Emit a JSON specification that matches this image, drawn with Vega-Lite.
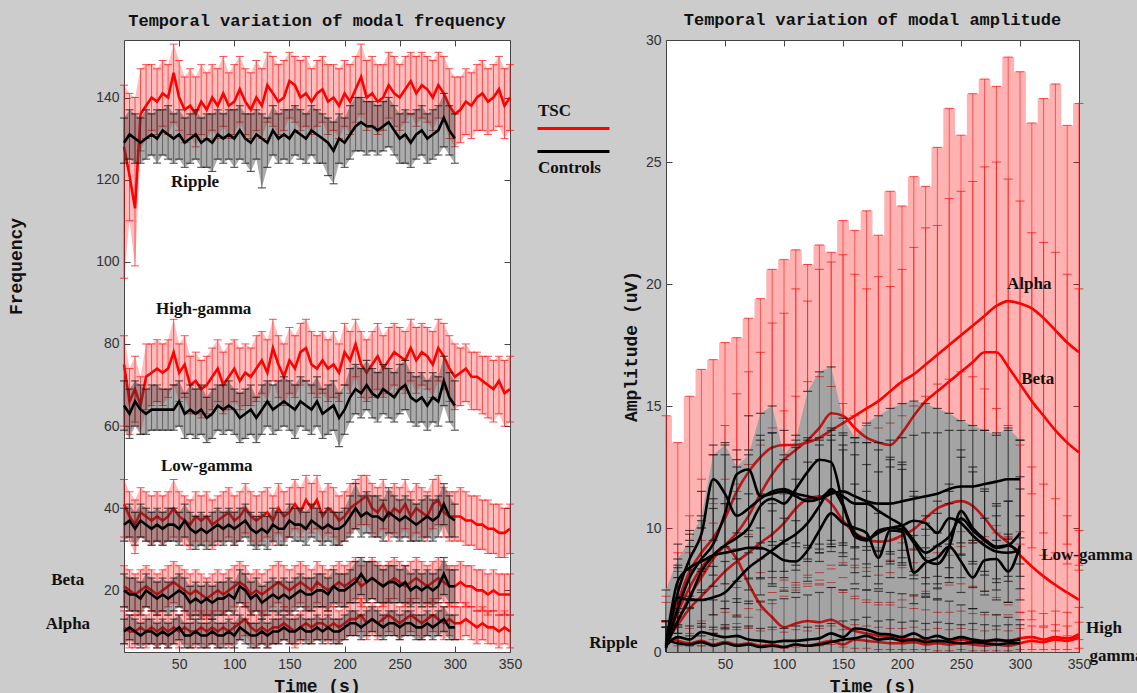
{
"$schema":"https://vega.github.io/schema/vega-lite/v6.json",
"background":"#cccccc",
"padding":{"left":6,"top":10,"right":0,"bottom":0},
"spacing":65,
"config":{
 "view":{"stroke":"#444444","fill":"#ffffff","strokeWidth":1},
 "title":{"font":"Liberation Mono","fontSize":17,"fontWeight":"bold","color":"#111111","offset":10},
 "axis":{"labelFont":"Liberation Sans","labelFontSize":14,"labelColor":"#333333","titleFont":"Liberation Mono","titleFontSize":18,"titleFontWeight":"bold","titleColor":"#111111","domain":false,"grid":false,"tickColor":"#444444","tickSize":-6,"labelPadding":11,"labelFlush":false,"labelOverlap":false},
 "legend":{"padding":0,"labelOffset":0},
 "text":{"font":"Liberation Serif","fontWeight":"bold","fontSize":17,"color":"#111111","align":"left","baseline":"middle"}
},
"datasets":{
"left":[
{"b":"R","t":0,"Tm":128,"Tl":96,"Th":143,"Cm":129,"Cl":124,"Ch":135},
{"b":"R","t":5,"Tm":121,"Tl":110,"Th":141,"Cm":131,"Cl":125,"Ch":137},
{"b":"R","t":10,"Tm":113,"Tl":99,"Th":140,"Cm":130,"Cl":124,"Ch":136},
{"b":"R","t":15,"Tm":136,"Tl":127,"Th":147,"Cm":129,"Cl":124,"Ch":135},
{"b":"R","t":20,"Tm":138,"Tl":130,"Th":148,"Cm":130,"Cl":125,"Ch":137},
{"b":"R","t":25,"Tm":140,"Tl":132,"Th":148,"Cm":131,"Cl":126,"Ch":136},
{"b":"R","t":30,"Tm":139,"Tl":131,"Th":147,"Cm":130,"Cl":124,"Ch":137},
{"b":"R","t":35,"Tm":141,"Tl":133,"Th":149,"Cm":132,"Cl":126,"Ch":137},
{"b":"R","t":40,"Tm":140,"Tl":131,"Th":148,"Cm":131,"Cl":125,"Ch":138},
{"b":"R","t":45,"Tm":146,"Tl":134,"Th":153,"Cm":130,"Cl":124,"Ch":136},
{"b":"R","t":50,"Tm":140,"Tl":132,"Th":149,"Cm":131,"Cl":125,"Ch":137},
{"b":"R","t":55,"Tm":137,"Tl":129,"Th":145,"Cm":129,"Cl":123,"Ch":135},
{"b":"R","t":60,"Tm":138,"Tl":131,"Th":147,"Cm":130,"Cl":124,"Ch":136},
{"b":"R","t":65,"Tm":136,"Tl":128,"Th":145,"Cm":131,"Cl":125,"Ch":137},
{"b":"R","t":70,"Tm":139,"Tl":131,"Th":148,"Cm":129,"Cl":123,"Ch":135},
{"b":"R","t":75,"Tm":137,"Tl":130,"Th":146,"Cm":130,"Cl":123,"Ch":136},
{"b":"R","t":80,"Tm":140,"Tl":132,"Th":148,"Cm":129,"Cl":122,"Ch":136},
{"b":"R","t":85,"Tm":138,"Tl":130,"Th":147,"Cm":131,"Cl":125,"Ch":137},
{"b":"R","t":90,"Tm":141,"Tl":133,"Th":150,"Cm":130,"Cl":124,"Ch":136},
{"b":"R","t":95,"Tm":138,"Tl":130,"Th":146,"Cm":131,"Cl":125,"Ch":137},
{"b":"R","t":100,"Tm":139,"Tl":131,"Th":148,"Cm":130,"Cl":123,"Ch":137},
{"b":"R","t":105,"Tm":142,"Tl":134,"Th":150,"Cm":132,"Cl":125,"Ch":138},
{"b":"R","t":110,"Tm":139,"Tl":131,"Th":147,"Cm":130,"Cl":124,"Ch":136},
{"b":"R","t":115,"Tm":137,"Tl":130,"Th":146,"Cm":129,"Cl":122,"Ch":136},
{"b":"R","t":120,"Tm":140,"Tl":132,"Th":149,"Cm":131,"Cl":125,"Ch":137},
{"b":"R","t":125,"Tm":138,"Tl":130,"Th":147,"Cm":130,"Cl":118,"Ch":136},
{"b":"R","t":130,"Tm":143,"Tl":134,"Th":151,"Cm":129,"Cl":123,"Ch":135},
{"b":"R","t":135,"Tm":141,"Tl":133,"Th":150,"Cm":132,"Cl":126,"Ch":138},
{"b":"R","t":140,"Tm":139,"Tl":131,"Th":148,"Cm":130,"Cl":124,"Ch":136},
{"b":"R","t":145,"Tm":140,"Tl":132,"Th":149,"Cm":131,"Cl":125,"Ch":137},
{"b":"R","t":150,"Tm":144,"Tl":135,"Th":151,"Cm":130,"Cl":124,"Ch":137},
{"b":"R","t":155,"Tm":143,"Tl":134,"Th":150,"Cm":132,"Cl":126,"Ch":138},
{"b":"R","t":160,"Tm":140,"Tl":132,"Th":149,"Cm":131,"Cl":125,"Ch":137},
{"b":"R","t":165,"Tm":141,"Tl":133,"Th":150,"Cm":130,"Cl":124,"Ch":136},
{"b":"R","t":170,"Tm":139,"Tl":131,"Th":147,"Cm":132,"Cl":126,"Ch":138},
{"b":"R","t":175,"Tm":141,"Tl":133,"Th":149,"Cm":131,"Cl":124,"Ch":137},
{"b":"R","t":180,"Tm":142,"Tl":134,"Th":150,"Cm":130,"Cl":124,"Ch":136},
{"b":"R","t":185,"Tm":139,"Tl":131,"Th":148,"Cm":129,"Cl":121,"Ch":135},
{"b":"R","t":190,"Tm":140,"Tl":132,"Th":148,"Cm":127,"Cl":119,"Ch":134},
{"b":"R","t":195,"Tm":138,"Tl":130,"Th":147,"Cm":130,"Cl":124,"Ch":136},
{"b":"R","t":200,"Tm":141,"Tl":133,"Th":149,"Cm":129,"Cl":123,"Ch":135},
{"b":"R","t":205,"Tm":139,"Tl":131,"Th":148,"Cm":131,"Cl":125,"Ch":138},
{"b":"R","t":210,"Tm":142,"Tl":134,"Th":150,"Cm":133,"Cl":127,"Ch":140},
{"b":"R","t":215,"Tm":145,"Tl":136,"Th":153,"Cm":134,"Cl":127,"Ch":140},
{"b":"R","t":220,"Tm":140,"Tl":132,"Th":149,"Cm":133,"Cl":126,"Ch":139},
{"b":"R","t":225,"Tm":141,"Tl":133,"Th":150,"Cm":133,"Cl":127,"Ch":139},
{"b":"R","t":230,"Tm":139,"Tl":131,"Th":148,"Cm":132,"Cl":126,"Ch":138},
{"b":"R","t":235,"Tm":140,"Tl":132,"Th":148,"Cm":133,"Cl":127,"Ch":139},
{"b":"R","t":240,"Tm":143,"Tl":135,"Th":151,"Cm":134,"Cl":128,"Ch":140},
{"b":"R","t":245,"Tm":141,"Tl":133,"Th":150,"Cm":132,"Cl":126,"Ch":138},
{"b":"R","t":250,"Tm":140,"Tl":132,"Th":148,"Cm":130,"Cl":124,"Ch":136},
{"b":"R","t":255,"Tm":142,"Tl":134,"Th":150,"Cm":131,"Cl":124,"Ch":137},
{"b":"R","t":260,"Tm":144,"Tl":136,"Th":151,"Cm":129,"Cl":123,"Ch":136},
{"b":"R","t":265,"Tm":141,"Tl":133,"Th":150,"Cm":131,"Cl":125,"Ch":137},
{"b":"R","t":270,"Tm":143,"Tl":135,"Th":151,"Cm":132,"Cl":126,"Ch":138},
{"b":"R","t":275,"Tm":142,"Tl":134,"Th":150,"Cm":130,"Cl":124,"Ch":136},
{"b":"R","t":280,"Tm":140,"Tl":132,"Th":149,"Cm":131,"Cl":125,"Ch":137},
{"b":"R","t":285,"Tm":143,"Tl":135,"Th":151,"Cm":132,"Cl":126,"Ch":138},
{"b":"R","t":290,"Tm":141,"Tl":134,"Th":150,"Cm":135,"Cl":128,"Ch":141},
{"b":"R","t":295,"Tm":138,"Tl":130,"Th":147,"Cm":132,"Cl":126,"Ch":138},
{"b":"R","t":300,"Tm":136,"Tl":128,"Th":145,"Cm":130,"Cl":124,"Ch":136},
{"b":"R","t":305,"Tm":137,"Tl":129,"Th":145},
{"b":"R","t":310,"Tm":139,"Tl":131,"Th":147},
{"b":"R","t":315,"Tm":138,"Tl":130,"Th":146},
{"b":"R","t":320,"Tm":140,"Tl":132,"Th":148},
{"b":"R","t":325,"Tm":141,"Tl":132,"Th":149},
{"b":"R","t":330,"Tm":139,"Tl":131,"Th":147},
{"b":"R","t":335,"Tm":140,"Tl":132,"Th":148},
{"b":"R","t":340,"Tm":142,"Tl":133,"Th":150},
{"b":"R","t":345,"Tm":138,"Tl":130,"Th":147},
{"b":"R","t":350,"Tm":140,"Tl":132,"Th":148},
{"b":"H","t":0,"Tm":75,"Tl":60,"Th":82,"Cm":65,"Cl":59,"Ch":71},
{"b":"H","t":5,"Tm":66,"Tl":58,"Th":74,"Cm":63,"Cl":57,"Ch":69},
{"b":"H","t":10,"Tm":69,"Tl":61,"Th":77,"Cm":66,"Cl":60,"Ch":71},
{"b":"H","t":15,"Tm":65,"Tl":58,"Th":72,"Cm":64,"Cl":58,"Ch":70},
{"b":"H","t":20,"Tm":72,"Tl":64,"Th":80,"Cm":63,"Cl":58,"Ch":69},
{"b":"H","t":25,"Tm":73,"Tl":65,"Th":80,"Cm":64,"Cl":59,"Ch":70},
{"b":"H","t":30,"Tm":74,"Tl":66,"Th":81,"Cm":64,"Cl":59,"Ch":70},
{"b":"H","t":35,"Tm":73,"Tl":65,"Th":80,"Cm":64,"Cl":59,"Ch":69},
{"b":"H","t":40,"Tm":74,"Tl":67,"Th":81,"Cm":64,"Cl":59,"Ch":69},
{"b":"H","t":45,"Tm":78,"Tl":70,"Th":86,"Cm":64,"Cl":59,"Ch":70},
{"b":"H","t":50,"Tm":73,"Tl":66,"Th":80,"Cm":66,"Cl":60,"Ch":71},
{"b":"H","t":55,"Tm":75,"Tl":67,"Th":82,"Cm":63,"Cl":57,"Ch":68},
{"b":"H","t":60,"Tm":70,"Tl":63,"Th":77,"Cm":64,"Cl":58,"Ch":70},
{"b":"H","t":65,"Tm":71,"Tl":63,"Th":78,"Cm":63,"Cl":57,"Ch":69},
{"b":"H","t":70,"Tm":69,"Tl":62,"Th":76,"Cm":64,"Cl":58,"Ch":70},
{"b":"H","t":75,"Tm":70,"Tl":63,"Th":77,"Cm":62,"Cl":56,"Ch":67},
{"b":"H","t":80,"Tm":72,"Tl":64,"Th":79,"Cm":63,"Cl":57,"Ch":69},
{"b":"H","t":85,"Tm":74,"Tl":66,"Th":81,"Cm":65,"Cl":59,"Ch":70},
{"b":"H","t":90,"Tm":70,"Tl":63,"Th":78,"Cm":64,"Cl":58,"Ch":70},
{"b":"H","t":95,"Tm":72,"Tl":64,"Th":80,"Cm":65,"Cl":59,"Ch":71},
{"b":"H","t":100,"Tm":74,"Tl":66,"Th":81,"Cm":64,"Cl":58,"Ch":69},
{"b":"H","t":105,"Tm":71,"Tl":64,"Th":79,"Cm":62,"Cl":56,"Ch":68},
{"b":"H","t":110,"Tm":73,"Tl":65,"Th":80,"Cm":63,"Cl":57,"Ch":69},
{"b":"H","t":115,"Tm":72,"Tl":65,"Th":79,"Cm":64,"Cl":58,"Ch":70},
{"b":"H","t":120,"Tm":74,"Tl":66,"Th":82,"Cm":62,"Cl":56,"Ch":67},
{"b":"H","t":125,"Tm":76,"Tl":68,"Th":83,"Cm":64,"Cl":58,"Ch":70},
{"b":"H","t":130,"Tm":73,"Tl":66,"Th":81,"Cm":66,"Cl":60,"Ch":71},
{"b":"H","t":135,"Tm":79,"Tl":71,"Th":86,"Cm":64,"Cl":58,"Ch":70},
{"b":"H","t":140,"Tm":75,"Tl":67,"Th":82,"Cm":65,"Cl":59,"Ch":71},
{"b":"H","t":145,"Tm":72,"Tl":65,"Th":80,"Cm":66,"Cl":60,"Ch":72},
{"b":"H","t":150,"Tm":76,"Tl":68,"Th":84,"Cm":65,"Cl":59,"Ch":71},
{"b":"H","t":155,"Tm":74,"Tl":67,"Th":82,"Cm":64,"Cl":57,"Ch":70},
{"b":"H","t":160,"Tm":78,"Tl":70,"Th":85,"Cm":66,"Cl":60,"Ch":72},
{"b":"H","t":165,"Tm":79,"Tl":71,"Th":86,"Cm":65,"Cl":59,"Ch":71},
{"b":"H","t":170,"Tm":75,"Tl":68,"Th":83,"Cm":64,"Cl":58,"Ch":70},
{"b":"H","t":175,"Tm":74,"Tl":67,"Th":82,"Cm":66,"Cl":60,"Ch":72},
{"b":"H","t":180,"Tm":76,"Tl":68,"Th":83,"Cm":63,"Cl":57,"Ch":69},
{"b":"H","t":185,"Tm":74,"Tl":66,"Th":81,"Cm":64,"Cl":58,"Ch":70},
{"b":"H","t":190,"Tm":75,"Tl":67,"Th":83,"Cm":65,"Cl":59,"Ch":71},
{"b":"H","t":195,"Tm":73,"Tl":66,"Th":80,"Cm":62,"Cl":55,"Ch":68},
{"b":"H","t":200,"Tm":78,"Tl":70,"Th":85,"Cm":64,"Cl":58,"Ch":70},
{"b":"H","t":205,"Tm":76,"Tl":68,"Th":83,"Cm":67,"Cl":61,"Ch":74},
{"b":"H","t":210,"Tm":80,"Tl":72,"Th":86,"Cm":69,"Cl":63,"Ch":75},
{"b":"H","t":215,"Tm":75,"Tl":67,"Th":83,"Cm":68,"Cl":62,"Ch":74},
{"b":"H","t":220,"Tm":73,"Tl":66,"Th":81,"Cm":70,"Cl":64,"Ch":76},
{"b":"H","t":225,"Tm":75,"Tl":67,"Th":83,"Cm":68,"Cl":62,"Ch":74},
{"b":"H","t":230,"Tm":77,"Tl":69,"Th":85,"Cm":67,"Cl":61,"Ch":73},
{"b":"H","t":235,"Tm":74,"Tl":67,"Th":82,"Cm":69,"Cl":63,"Ch":75},
{"b":"H","t":240,"Tm":76,"Tl":68,"Th":84,"Cm":68,"Cl":62,"Ch":74},
{"b":"H","t":245,"Tm":78,"Tl":70,"Th":85,"Cm":67,"Cl":61,"Ch":73},
{"b":"H","t":250,"Tm":77,"Tl":69,"Th":84,"Cm":69,"Cl":63,"Ch":75},
{"b":"H","t":255,"Tm":76,"Tl":68,"Th":83,"Cm":70,"Cl":64,"Ch":76},
{"b":"H","t":260,"Tm":79,"Tl":71,"Th":86,"Cm":67,"Cl":61,"Ch":73},
{"b":"H","t":265,"Tm":76,"Tl":68,"Th":84,"Cm":66,"Cl":60,"Ch":72},
{"b":"H","t":270,"Tm":78,"Tl":70,"Th":85,"Cm":67,"Cl":61,"Ch":73},
{"b":"H","t":275,"Tm":77,"Tl":69,"Th":84,"Cm":65,"Cl":59,"Ch":71},
{"b":"H","t":280,"Tm":75,"Tl":67,"Th":83,"Cm":67,"Cl":61,"Ch":73},
{"b":"H","t":285,"Tm":79,"Tl":71,"Th":86,"Cm":66,"Cl":60,"Ch":72},
{"b":"H","t":290,"Tm":77,"Tl":69,"Th":85,"Cm":71,"Cl":65,"Ch":77},
{"b":"H","t":295,"Tm":74,"Tl":66,"Th":82,"Cm":67,"Cl":61,"Ch":73},
{"b":"H","t":300,"Tm":72,"Tl":64,"Th":80,"Cm":65,"Cl":59,"Ch":71},
{"b":"H","t":305,"Tm":73,"Tl":65,"Th":79},
{"b":"H","t":310,"Tm":74,"Tl":66,"Th":80},
{"b":"H","t":315,"Tm":72,"Tl":64,"Th":78},
{"b":"H","t":320,"Tm":72,"Tl":64,"Th":78},
{"b":"H","t":325,"Tm":71,"Tl":63,"Th":77},
{"b":"H","t":330,"Tm":70,"Tl":62,"Th":77},
{"b":"H","t":335,"Tm":69,"Tl":61,"Th":76},
{"b":"H","t":340,"Tm":71,"Tl":63,"Th":77},
{"b":"H","t":345,"Tm":68,"Tl":60,"Th":76},
{"b":"H","t":350,"Tm":69,"Tl":61,"Th":77},
{"b":"L","t":0,"Tm":41,"Tl":33,"Th":47,"Cm":36,"Cl":32,"Ch":40},
{"b":"L","t":5,"Tm":38,"Tl":32,"Th":44,"Cm":37,"Cl":33,"Ch":41},
{"b":"L","t":10,"Tm":36,"Tl":29,"Th":42,"Cm":35,"Cl":31,"Ch":39},
{"b":"L","t":15,"Tm":39,"Tl":33,"Th":45,"Cm":37,"Cl":33,"Ch":41},
{"b":"L","t":20,"Tm":38,"Tl":32,"Th":44,"Cm":36,"Cl":32,"Ch":40},
{"b":"L","t":25,"Tm":37,"Tl":31,"Th":43,"Cm":35,"Cl":31,"Ch":39},
{"b":"L","t":30,"Tm":38,"Tl":32,"Th":44,"Cm":36,"Cl":32,"Ch":40},
{"b":"L","t":35,"Tm":37,"Tl":31,"Th":43,"Cm":35,"Cl":31,"Ch":39},
{"b":"L","t":40,"Tm":38,"Tl":32,"Th":44,"Cm":36,"Cl":32,"Ch":40},
{"b":"L","t":45,"Tm":40,"Tl":33,"Th":47,"Cm":36,"Cl":32,"Ch":40},
{"b":"L","t":50,"Tm":38,"Tl":32,"Th":44,"Cm":35,"Cl":31,"Ch":39},
{"b":"L","t":55,"Tm":37,"Tl":31,"Th":43,"Cm":37,"Cl":33,"Ch":41},
{"b":"L","t":60,"Tm":36,"Tl":30,"Th":42,"Cm":35,"Cl":31,"Ch":39},
{"b":"L","t":65,"Tm":38,"Tl":32,"Th":44,"Cm":34,"Cl":30,"Ch":38},
{"b":"L","t":70,"Tm":37,"Tl":31,"Th":43,"Cm":35,"Cl":31,"Ch":39},
{"b":"L","t":75,"Tm":38,"Tl":32,"Th":44,"Cm":34,"Cl":30,"Ch":38},
{"b":"L","t":80,"Tm":36,"Tl":30,"Th":42,"Cm":35,"Cl":31,"Ch":39},
{"b":"L","t":85,"Tm":37,"Tl":31,"Th":43,"Cm":36,"Cl":32,"Ch":40},
{"b":"L","t":90,"Tm":38,"Tl":32,"Th":44,"Cm":35,"Cl":31,"Ch":39},
{"b":"L","t":95,"Tm":39,"Tl":33,"Th":45,"Cm":36,"Cl":32,"Ch":40},
{"b":"L","t":100,"Tm":37,"Tl":31,"Th":43,"Cm":35,"Cl":31,"Ch":39},
{"b":"L","t":105,"Tm":38,"Tl":32,"Th":44,"Cm":36,"Cl":32,"Ch":40},
{"b":"L","t":110,"Tm":40,"Tl":34,"Th":46,"Cm":37,"Cl":33,"Ch":41},
{"b":"L","t":115,"Tm":38,"Tl":32,"Th":44,"Cm":35,"Cl":31,"Ch":39},
{"b":"L","t":120,"Tm":37,"Tl":31,"Th":43,"Cm":34,"Cl":30,"Ch":38},
{"b":"L","t":125,"Tm":38,"Tl":32,"Th":44,"Cm":35,"Cl":31,"Ch":39},
{"b":"L","t":130,"Tm":39,"Tl":33,"Th":45,"Cm":34,"Cl":30,"Ch":38},
{"b":"L","t":135,"Tm":37,"Tl":31,"Th":43,"Cm":36,"Cl":32,"Ch":40},
{"b":"L","t":140,"Tm":40,"Tl":34,"Th":46,"Cm":35,"Cl":31,"Ch":39},
{"b":"L","t":145,"Tm":38,"Tl":32,"Th":44,"Cm":35,"Cl":31,"Ch":39},
{"b":"L","t":150,"Tm":39,"Tl":33,"Th":45,"Cm":37,"Cl":33,"Ch":41},
{"b":"L","t":155,"Tm":41,"Tl":35,"Th":47,"Cm":36,"Cl":32,"Ch":40},
{"b":"L","t":160,"Tm":39,"Tl":33,"Th":45,"Cm":36,"Cl":32,"Ch":40},
{"b":"L","t":165,"Tm":42,"Tl":35,"Th":48,"Cm":35,"Cl":31,"Ch":39},
{"b":"L","t":170,"Tm":40,"Tl":34,"Th":46,"Cm":37,"Cl":33,"Ch":41},
{"b":"L","t":175,"Tm":42,"Tl":35,"Th":48,"Cm":36,"Cl":32,"Ch":40},
{"b":"L","t":180,"Tm":38,"Tl":32,"Th":44,"Cm":35,"Cl":31,"Ch":39},
{"b":"L","t":185,"Tm":40,"Tl":34,"Th":46,"Cm":36,"Cl":32,"Ch":40},
{"b":"L","t":190,"Tm":39,"Tl":33,"Th":45,"Cm":35,"Cl":31,"Ch":39},
{"b":"L","t":195,"Tm":37,"Tl":31,"Th":43,"Cm":35,"Cl":31,"Ch":39},
{"b":"L","t":200,"Tm":38,"Tl":32,"Th":44,"Cm":36,"Cl":32,"Ch":40},
{"b":"L","t":205,"Tm":40,"Tl":34,"Th":46,"Cm":38,"Cl":33,"Ch":43},
{"b":"L","t":210,"Tm":41,"Tl":35,"Th":47,"Cm":40,"Cl":35,"Ch":46},
{"b":"L","t":215,"Tm":42,"Tl":36,"Th":48,"Cm":38,"Cl":33,"Ch":43},
{"b":"L","t":220,"Tm":43,"Tl":36,"Th":48,"Cm":39,"Cl":34,"Ch":44},
{"b":"L","t":225,"Tm":40,"Tl":34,"Th":46,"Cm":38,"Cl":33,"Ch":43},
{"b":"L","t":230,"Tm":39,"Tl":33,"Th":45,"Cm":38,"Cl":33,"Ch":43},
{"b":"L","t":235,"Tm":41,"Tl":35,"Th":47,"Cm":37,"Cl":32,"Ch":42},
{"b":"L","t":240,"Tm":38,"Tl":32,"Th":44,"Cm":39,"Cl":34,"Ch":45},
{"b":"L","t":245,"Tm":40,"Tl":34,"Th":46,"Cm":38,"Cl":33,"Ch":43},
{"b":"L","t":250,"Tm":39,"Tl":33,"Th":45,"Cm":37,"Cl":32,"Ch":42},
{"b":"L","t":255,"Tm":41,"Tl":35,"Th":47,"Cm":38,"Cl":33,"Ch":43},
{"b":"L","t":260,"Tm":38,"Tl":32,"Th":44,"Cm":37,"Cl":32,"Ch":42},
{"b":"L","t":265,"Tm":40,"Tl":34,"Th":46,"Cm":36,"Cl":32,"Ch":41},
{"b":"L","t":270,"Tm":39,"Tl":33,"Th":45,"Cm":37,"Cl":32,"Ch":42},
{"b":"L","t":275,"Tm":38,"Tl":32,"Th":44,"Cm":38,"Cl":33,"Ch":43},
{"b":"L","t":280,"Tm":41,"Tl":35,"Th":47,"Cm":37,"Cl":32,"Ch":42},
{"b":"L","t":285,"Tm":42,"Tl":36,"Th":48,"Cm":38,"Cl":33,"Ch":43},
{"b":"L","t":290,"Tm":39,"Tl":33,"Th":45,"Cm":41,"Cl":36,"Ch":46},
{"b":"L","t":295,"Tm":38,"Tl":32,"Th":44,"Cm":38,"Cl":33,"Ch":43},
{"b":"L","t":300,"Tm":38,"Tl":32,"Th":44,"Cm":37,"Cl":33,"Ch":41},
{"b":"L","t":305,"Tm":38,"Tl":32,"Th":45},
{"b":"L","t":310,"Tm":37,"Tl":31,"Th":44},
{"b":"L","t":315,"Tm":37,"Tl":31,"Th":43},
{"b":"L","t":320,"Tm":36,"Tl":30,"Th":43},
{"b":"L","t":325,"Tm":36,"Tl":30,"Th":42},
{"b":"L","t":330,"Tm":35,"Tl":29,"Th":42},
{"b":"L","t":335,"Tm":35,"Tl":29,"Th":41},
{"b":"L","t":340,"Tm":34,"Tl":28,"Th":41},
{"b":"L","t":345,"Tm":34,"Tl":28,"Th":40},
{"b":"L","t":350,"Tm":35,"Tl":29,"Th":41},
{"b":"B","t":0,"Tm":21,"Tl":16,"Th":26,"Cm":20,"Cl":16,"Ch":24},
{"b":"B","t":5,"Tm":20,"Tl":15,"Th":25,"Cm":19,"Cl":15,"Ch":23},
{"b":"B","t":10,"Tm":19,"Tl":14,"Th":24,"Cm":19,"Cl":15,"Ch":23},
{"b":"B","t":15,"Tm":20,"Tl":15,"Th":25,"Cm":18,"Cl":14,"Ch":22},
{"b":"B","t":20,"Tm":21,"Tl":16,"Th":26,"Cm":20,"Cl":16,"Ch":24},
{"b":"B","t":25,"Tm":20,"Tl":15,"Th":25,"Cm":19,"Cl":15,"Ch":23},
{"b":"B","t":30,"Tm":19,"Tl":14,"Th":24,"Cm":18,"Cl":14,"Ch":22},
{"b":"B","t":35,"Tm":20,"Tl":15,"Th":25,"Cm":19,"Cl":15,"Ch":23},
{"b":"B","t":40,"Tm":21,"Tl":16,"Th":26,"Cm":18,"Cl":14,"Ch":22},
{"b":"B","t":45,"Tm":22,"Tl":17,"Th":27,"Cm":19,"Cl":15,"Ch":23},
{"b":"B","t":50,"Tm":21,"Tl":16,"Th":26,"Cm":20,"Cl":16,"Ch":24},
{"b":"B","t":55,"Tm":20,"Tl":15,"Th":25,"Cm":19,"Cl":15,"Ch":23},
{"b":"B","t":60,"Tm":19,"Tl":14,"Th":24,"Cm":17,"Cl":13,"Ch":21},
{"b":"B","t":65,"Tm":20,"Tl":15,"Th":25,"Cm":18,"Cl":14,"Ch":22},
{"b":"B","t":70,"Tm":19,"Tl":14,"Th":24,"Cm":17,"Cl":13,"Ch":21},
{"b":"B","t":75,"Tm":18,"Tl":13,"Th":23,"Cm":18,"Cl":14,"Ch":22},
{"b":"B","t":80,"Tm":19,"Tl":14,"Th":24,"Cm":17,"Cl":13,"Ch":21},
{"b":"B","t":85,"Tm":20,"Tl":15,"Th":25,"Cm":18,"Cl":14,"Ch":22},
{"b":"B","t":90,"Tm":19,"Tl":14,"Th":24,"Cm":18,"Cl":14,"Ch":22},
{"b":"B","t":95,"Tm":20,"Tl":15,"Th":25,"Cm":19,"Cl":15,"Ch":23},
{"b":"B","t":100,"Tm":21,"Tl":16,"Th":26,"Cm":18,"Cl":14,"Ch":22},
{"b":"B","t":105,"Tm":22,"Tl":17,"Th":27,"Cm":21,"Cl":17,"Ch":25},
{"b":"B","t":110,"Tm":21,"Tl":16,"Th":26,"Cm":20,"Cl":16,"Ch":24},
{"b":"B","t":115,"Tm":19,"Tl":14,"Th":24,"Cm":18,"Cl":14,"Ch":22},
{"b":"B","t":120,"Tm":20,"Tl":15,"Th":25,"Cm":19,"Cl":15,"Ch":23},
{"b":"B","t":125,"Tm":19,"Tl":14,"Th":24,"Cm":17,"Cl":13,"Ch":21},
{"b":"B","t":130,"Tm":20,"Tl":15,"Th":25,"Cm":18,"Cl":14,"Ch":22},
{"b":"B","t":135,"Tm":21,"Tl":16,"Th":26,"Cm":19,"Cl":15,"Ch":23},
{"b":"B","t":140,"Tm":22,"Tl":17,"Th":27,"Cm":18,"Cl":14,"Ch":22},
{"b":"B","t":145,"Tm":21,"Tl":16,"Th":26,"Cm":19,"Cl":15,"Ch":23},
{"b":"B","t":150,"Tm":20,"Tl":15,"Th":25,"Cm":18,"Cl":14,"Ch":22},
{"b":"B","t":155,"Tm":21,"Tl":16,"Th":26,"Cm":19,"Cl":15,"Ch":23},
{"b":"B","t":160,"Tm":22,"Tl":17,"Th":27,"Cm":20,"Cl":16,"Ch":24},
{"b":"B","t":165,"Tm":21,"Tl":16,"Th":26,"Cm":19,"Cl":15,"Ch":23},
{"b":"B","t":170,"Tm":20,"Tl":15,"Th":25,"Cm":19,"Cl":15,"Ch":23},
{"b":"B","t":175,"Tm":22,"Tl":17,"Th":27,"Cm":20,"Cl":16,"Ch":24},
{"b":"B","t":180,"Tm":21,"Tl":16,"Th":26,"Cm":20,"Cl":16,"Ch":24},
{"b":"B","t":185,"Tm":20,"Tl":15,"Th":25,"Cm":19,"Cl":15,"Ch":23},
{"b":"B","t":190,"Tm":21,"Tl":16,"Th":26,"Cm":21,"Cl":17,"Ch":25},
{"b":"B","t":195,"Tm":22,"Tl":17,"Th":27,"Cm":20,"Cl":16,"Ch":24},
{"b":"B","t":200,"Tm":21,"Tl":16,"Th":26,"Cm":20,"Cl":16,"Ch":24},
{"b":"B","t":205,"Tm":22,"Tl":17,"Th":27,"Cm":21,"Cl":17,"Ch":25},
{"b":"B","t":210,"Tm":23,"Tl":18,"Th":28,"Cm":22,"Cl":17,"Ch":27},
{"b":"B","t":215,"Tm":21,"Tl":16,"Th":26,"Cm":24,"Cl":19,"Ch":28},
{"b":"B","t":220,"Tm":22,"Tl":17,"Th":27,"Cm":22,"Cl":17,"Ch":27},
{"b":"B","t":225,"Tm":23,"Tl":18,"Th":28,"Cm":23,"Cl":18,"Ch":27},
{"b":"B","t":230,"Tm":22,"Tl":17,"Th":27,"Cm":22,"Cl":17,"Ch":26},
{"b":"B","t":235,"Tm":21,"Tl":16,"Th":26,"Cm":21,"Cl":17,"Ch":25},
{"b":"B","t":240,"Tm":22,"Tl":17,"Th":27,"Cm":22,"Cl":17,"Ch":26},
{"b":"B","t":245,"Tm":23,"Tl":18,"Th":28,"Cm":22,"Cl":17,"Ch":26},
{"b":"B","t":250,"Tm":22,"Tl":17,"Th":27,"Cm":21,"Cl":17,"Ch":25},
{"b":"B","t":255,"Tm":21,"Tl":16,"Th":26,"Cm":22,"Cl":17,"Ch":26},
{"b":"B","t":260,"Tm":22,"Tl":17,"Th":27,"Cm":20,"Cl":16,"Ch":24},
{"b":"B","t":265,"Tm":23,"Tl":18,"Th":28,"Cm":21,"Cl":17,"Ch":25},
{"b":"B","t":270,"Tm":22,"Tl":17,"Th":27,"Cm":20,"Cl":16,"Ch":24},
{"b":"B","t":275,"Tm":21,"Tl":16,"Th":26,"Cm":21,"Cl":17,"Ch":25},
{"b":"B","t":280,"Tm":22,"Tl":17,"Th":27,"Cm":20,"Cl":16,"Ch":24},
{"b":"B","t":285,"Tm":23,"Tl":18,"Th":28,"Cm":21,"Cl":17,"Ch":25},
{"b":"B","t":290,"Tm":22,"Tl":17,"Th":27,"Cm":24,"Cl":19,"Ch":28},
{"b":"B","t":295,"Tm":21,"Tl":16,"Th":26,"Cm":21,"Cl":17,"Ch":25},
{"b":"B","t":300,"Tm":21,"Tl":16,"Th":26,"Cm":21,"Cl":17,"Ch":25},
{"b":"B","t":305,"Tm":22,"Tl":17,"Th":27},
{"b":"B","t":310,"Tm":21,"Tl":16,"Th":26},
{"b":"B","t":315,"Tm":21,"Tl":16,"Th":26},
{"b":"B","t":320,"Tm":20,"Tl":15,"Th":25},
{"b":"B","t":325,"Tm":20,"Tl":15,"Th":25},
{"b":"B","t":330,"Tm":19,"Tl":14,"Th":24},
{"b":"B","t":335,"Tm":20,"Tl":15,"Th":25},
{"b":"B","t":340,"Tm":19,"Tl":14,"Th":24},
{"b":"B","t":345,"Tm":19,"Tl":14,"Th":24},
{"b":"B","t":350,"Tm":19,"Tl":14,"Th":24},
{"b":"A","t":0,"Tm":11,"Tl":7,"Th":15,"Cm":10,"Cl":7,"Ch":13},
{"b":"A","t":5,"Tm":10,"Tl":6,"Th":14,"Cm":11,"Cl":8,"Ch":14},
{"b":"A","t":10,"Tm":10,"Tl":6,"Th":14,"Cm":10,"Cl":7,"Ch":13},
{"b":"A","t":15,"Tm":11,"Tl":7,"Th":15,"Cm":9,"Cl":6,"Ch":12},
{"b":"A","t":20,"Tm":10,"Tl":6,"Th":14,"Cm":10,"Cl":7,"Ch":13},
{"b":"A","t":25,"Tm":11,"Tl":7,"Th":15,"Cm":10,"Cl":7,"Ch":13},
{"b":"A","t":30,"Tm":10,"Tl":6,"Th":14,"Cm":9,"Cl":6,"Ch":12},
{"b":"A","t":35,"Tm":11,"Tl":7,"Th":15,"Cm":10,"Cl":7,"Ch":13},
{"b":"A","t":40,"Tm":10,"Tl":6,"Th":14,"Cm":9,"Cl":6,"Ch":12},
{"b":"A","t":45,"Tm":11,"Tl":7,"Th":15,"Cm":10,"Cl":7,"Ch":13},
{"b":"A","t":50,"Tm":10,"Tl":6,"Th":14,"Cm":11,"Cl":8,"Ch":14},
{"b":"A","t":55,"Tm":11,"Tl":7,"Th":15,"Cm":9,"Cl":6,"Ch":12},
{"b":"A","t":60,"Tm":10,"Tl":6,"Th":14,"Cm":9,"Cl":6,"Ch":12},
{"b":"A","t":65,"Tm":10,"Tl":6,"Th":14,"Cm":10,"Cl":7,"Ch":13},
{"b":"A","t":70,"Tm":11,"Tl":7,"Th":15,"Cm":9,"Cl":6,"Ch":12},
{"b":"A","t":75,"Tm":10,"Tl":6,"Th":14,"Cm":9,"Cl":6,"Ch":12},
{"b":"A","t":80,"Tm":11,"Tl":7,"Th":15,"Cm":10,"Cl":7,"Ch":13},
{"b":"A","t":85,"Tm":10,"Tl":6,"Th":14,"Cm":9,"Cl":6,"Ch":12},
{"b":"A","t":90,"Tm":11,"Tl":7,"Th":15,"Cm":9,"Cl":6,"Ch":12},
{"b":"A","t":95,"Tm":10,"Tl":6,"Th":14,"Cm":10,"Cl":7,"Ch":13},
{"b":"A","t":100,"Tm":11,"Tl":7,"Th":15,"Cm":9,"Cl":6,"Ch":12},
{"b":"A","t":105,"Tm":12,"Tl":8,"Th":16,"Cm":11,"Cl":8,"Ch":14},
{"b":"A","t":110,"Tm":13,"Tl":9,"Th":17,"Cm":10,"Cl":7,"Ch":13},
{"b":"A","t":115,"Tm":11,"Tl":7,"Th":15,"Cm":9,"Cl":6,"Ch":12},
{"b":"A","t":120,"Tm":10,"Tl":6,"Th":14,"Cm":9,"Cl":6,"Ch":12},
{"b":"A","t":125,"Tm":11,"Tl":7,"Th":15,"Cm":10,"Cl":7,"Ch":13},
{"b":"A","t":130,"Tm":10,"Tl":6,"Th":14,"Cm":9,"Cl":6,"Ch":12},
{"b":"A","t":135,"Tm":11,"Tl":7,"Th":15,"Cm":10,"Cl":7,"Ch":13},
{"b":"A","t":140,"Tm":11,"Tl":7,"Th":15,"Cm":10,"Cl":7,"Ch":13},
{"b":"A","t":145,"Tm":12,"Tl":8,"Th":16,"Cm":11,"Cl":8,"Ch":14},
{"b":"A","t":150,"Tm":11,"Tl":7,"Th":15,"Cm":10,"Cl":7,"Ch":13},
{"b":"A","t":155,"Tm":10,"Tl":6,"Th":14,"Cm":10,"Cl":7,"Ch":13},
{"b":"A","t":160,"Tm":11,"Tl":7,"Th":15,"Cm":11,"Cl":8,"Ch":14},
{"b":"A","t":165,"Tm":12,"Tl":8,"Th":16,"Cm":10,"Cl":7,"Ch":13},
{"b":"A","t":170,"Tm":11,"Tl":7,"Th":15,"Cm":10,"Cl":7,"Ch":13},
{"b":"A","t":175,"Tm":12,"Tl":8,"Th":16,"Cm":11,"Cl":8,"Ch":14},
{"b":"A","t":180,"Tm":12,"Tl":8,"Th":16,"Cm":10,"Cl":7,"Ch":13},
{"b":"A","t":185,"Tm":11,"Tl":7,"Th":15,"Cm":11,"Cl":8,"Ch":14},
{"b":"A","t":190,"Tm":12,"Tl":8,"Th":16,"Cm":10,"Cl":7,"Ch":13},
{"b":"A","t":195,"Tm":11,"Tl":7,"Th":15,"Cm":10,"Cl":7,"Ch":13},
{"b":"A","t":200,"Tm":12,"Tl":8,"Th":16,"Cm":11,"Cl":8,"Ch":14},
{"b":"A","t":205,"Tm":13,"Tl":9,"Th":17,"Cm":12,"Cl":9,"Ch":15},
{"b":"A","t":210,"Tm":13,"Tl":9,"Th":17,"Cm":12,"Cl":9,"Ch":15},
{"b":"A","t":215,"Tm":14,"Tl":10,"Th":18,"Cm":11,"Cl":8,"Ch":14},
{"b":"A","t":220,"Tm":12,"Tl":8,"Th":16,"Cm":12,"Cl":9,"Ch":15},
{"b":"A","t":225,"Tm":13,"Tl":9,"Th":17,"Cm":13,"Cl":10,"Ch":16},
{"b":"A","t":230,"Tm":12,"Tl":8,"Th":16,"Cm":12,"Cl":9,"Ch":15},
{"b":"A","t":235,"Tm":13,"Tl":9,"Th":17,"Cm":11,"Cl":8,"Ch":14},
{"b":"A","t":240,"Tm":14,"Tl":10,"Th":18,"Cm":12,"Cl":9,"Ch":15},
{"b":"A","t":245,"Tm":13,"Tl":9,"Th":17,"Cm":12,"Cl":9,"Ch":15},
{"b":"A","t":250,"Tm":12,"Tl":8,"Th":16,"Cm":11,"Cl":8,"Ch":14},
{"b":"A","t":255,"Tm":13,"Tl":9,"Th":17,"Cm":12,"Cl":9,"Ch":15},
{"b":"A","t":260,"Tm":14,"Tl":10,"Th":18,"Cm":12,"Cl":9,"Ch":15},
{"b":"A","t":265,"Tm":13,"Tl":9,"Th":17,"Cm":11,"Cl":8,"Ch":14},
{"b":"A","t":270,"Tm":12,"Tl":8,"Th":16,"Cm":11,"Cl":8,"Ch":14},
{"b":"A","t":275,"Tm":13,"Tl":9,"Th":17,"Cm":12,"Cl":9,"Ch":15},
{"b":"A","t":280,"Tm":14,"Tl":10,"Th":18,"Cm":11,"Cl":8,"Ch":14},
{"b":"A","t":285,"Tm":13,"Tl":9,"Th":17,"Cm":12,"Cl":9,"Ch":15},
{"b":"A","t":290,"Tm":12,"Tl":8,"Th":16,"Cm":13,"Cl":10,"Ch":16},
{"b":"A","t":295,"Tm":13,"Tl":9,"Th":17,"Cm":11,"Cl":8,"Ch":14},
{"b":"A","t":300,"Tm":12,"Tl":8,"Th":16,"Cm":11,"Cl":8,"Ch":14},
{"b":"A","t":305,"Tm":12,"Tl":8,"Th":16},
{"b":"A","t":310,"Tm":13,"Tl":9,"Th":17},
{"b":"A","t":315,"Tm":12,"Tl":8,"Th":16},
{"b":"A","t":320,"Tm":11,"Tl":7,"Th":15},
{"b":"A","t":325,"Tm":12,"Tl":8,"Th":16},
{"b":"A","t":330,"Tm":11,"Tl":7,"Th":15},
{"b":"A","t":335,"Tm":11,"Tl":7,"Th":15},
{"b":"A","t":340,"Tm":10,"Tl":6,"Th":14},
{"b":"A","t":345,"Tm":11,"Tl":7,"Th":15},
{"b":"A","t":350,"Tm":10,"Tl":6,"Th":14}
],
"llab":[
{"t":42.6,"v":119.4,"txt":"Ripple"},
{"t":29,"v":88.5,"txt":"High-gamma"},
{"t":33.5,"v":50.3,"txt":"Low-gamma"},
{"t":-66,"v":22.5,"txt":"Beta"},
{"t":-71,"v":11.8,"txt":"Alpha"}
],
"rlab":[
{"t":289,"v":20,"txt":"Alpha"},
{"t":301,"v":16.1,"txt":"Beta"},
{"t":318,"v":7.8,"txt":"Low-gamma"},
{"t":356,"v":1.9,"txt":"High"},
{"t":359,"v":-0.3,"txt":"gamma"},
{"t":-65,"v":0.7,"txt":"Ripple"}
],
"right":[
{"s":"TA","t":0,"m":0.8,"l":0,"h":14.6},{"s":"TA","t":10,"m":4,"l":0,"h":13.5},{"s":"TA","t":20,"m":6.5,"l":0,"h":15.4},{"s":"TA","t":30,"m":8,"l":0,"h":16.5},{"s":"TA","t":40,"m":9.2,"l":1.5,"h":16.9},{"s":"TA","t":50,"m":10.4,"l":3.2,"h":17.6},{"s":"TA","t":60,"m":11.5,"l":5.2,"h":17.8},{"s":"TA","t":70,"m":12.3,"l":6,"h":18.6},{"s":"TA","t":80,"m":12.9,"l":6.4,"h":19.4},{"s":"TA","t":90,"m":13.3,"l":6,"h":20.6},{"s":"TA","t":100,"m":13.4,"l":5.8,"h":21},{"s":"TA","t":110,"m":13.4,"l":5.4,"h":21.4},{"s":"TA","t":120,"m":13.5,"l":6.2,"h":20.8},{"s":"TA","t":130,"m":13.7,"l":5.8,"h":21.6},{"s":"TA","t":140,"m":14,"l":6.7,"h":21.3},{"s":"TA","t":150,"m":14.3,"l":6,"h":22.6},{"s":"TA","t":160,"m":14.6,"l":7,"h":22.2},{"s":"TA","t":170,"m":14.9,"l":6.8,"h":23},{"s":"TA","t":180,"m":15.2,"l":8.4,"h":22},{"s":"TA","t":190,"m":15.6,"l":7.4,"h":23.8},{"s":"TA","t":200,"m":16,"l":8.8,"h":23.2},{"s":"TA","t":210,"m":16.3,"l":8.2,"h":24.4},{"s":"TA","t":220,"m":16.7,"l":9.4,"h":24},{"s":"TA","t":230,"m":17.1,"l":8.6,"h":25.6},{"s":"TA","t":240,"m":17.5,"l":7.8,"h":27.2},{"s":"TA","t":250,"m":17.9,"l":9.7,"h":26.1},{"s":"TA","t":260,"m":18.3,"l":8.8,"h":27.8},{"s":"TA","t":270,"m":18.7,"l":9,"h":28.4},{"s":"TA","t":280,"m":19.1,"l":10.1,"h":28.1},{"s":"TA","t":290,"m":19.3,"l":9.3,"h":29.3},{"s":"TA","t":300,"m":19.2,"l":9.7,"h":28.7},{"s":"TA","t":310,"m":19,"l":11.4,"h":26.6},{"s":"TA","t":320,"m":18.6,"l":9.6,"h":27.6},{"s":"TA","t":330,"m":18.1,"l":8,"h":28.2},{"s":"TA","t":340,"m":17.6,"l":8.7,"h":26.5},{"s":"TA","t":350,"m":17.2,"l":7,"h":27.4},
{"s":"TB","t":0,"m":0.5,"l":0,"h":4},{"s":"TB","t":10,"m":2.5,"l":0,"h":8},{"s":"TB","t":20,"m":4.5,"l":0,"h":10.5},{"s":"TB","t":30,"m":6,"l":0.5,"h":12},{"s":"TB","t":40,"m":7.5,"l":1.5,"h":13},{"s":"TB","t":50,"m":8.6,"l":2,"h":14.2},{"s":"TB","t":60,"m":9.6,"l":2.8,"h":15.5},{"s":"TB","t":70,"m":10.5,"l":3.5,"h":16.4},{"s":"TB","t":80,"m":11.4,"l":4,"h":17.2},{"s":"TB","t":90,"m":12.2,"l":4.8,"h":18.4},{"s":"TB","t":100,"m":12.8,"l":5.2,"h":18.8},{"s":"TB","t":110,"m":13.2,"l":5.6,"h":19.8},{"s":"TB","t":120,"m":13.6,"l":6,"h":19.3},{"s":"TB","t":130,"m":14.1,"l":6.4,"h":20.6},{"s":"TB","t":140,"m":14.7,"l":7,"h":20.9},{"s":"TB","t":150,"m":14.6,"l":7.2,"h":21.2},{"s":"TB","t":160,"m":14.1,"l":6.8,"h":20.4},{"s":"TB","t":170,"m":13.7,"l":6.5,"h":19.8},{"s":"TB","t":180,"m":13.5,"l":6.2,"h":20.3},{"s":"TB","t":190,"m":13.4,"l":6.4,"h":19.9},{"s":"TB","t":200,"m":13.9,"l":6.8,"h":20.6},{"s":"TB","t":210,"m":14.6,"l":7.2,"h":21.5},{"s":"TB","t":220,"m":15.2,"l":7.6,"h":22.3},{"s":"TB","t":230,"m":15.6,"l":8,"h":22.4},{"s":"TB","t":240,"m":16,"l":8.3,"h":23.5},{"s":"TB","t":250,"m":16.4,"l":8.5,"h":23.8},{"s":"TB","t":260,"m":16.8,"l":9,"h":24.2},{"s":"TB","t":270,"m":17.2,"l":9.3,"h":24.8},{"s":"TB","t":280,"m":17.2,"l":9.6,"h":25},{"s":"TB","t":290,"m":16.6,"l":9.2,"h":24.3},{"s":"TB","t":300,"m":15.9,"l":8.7,"h":23.4},{"s":"TB","t":310,"m":15.2,"l":8.4,"h":22.1},{"s":"TB","t":320,"m":14.6,"l":7.8,"h":21.7},{"s":"TB","t":330,"m":14,"l":7.5,"h":21.3},{"s":"TB","t":340,"m":13.5,"l":7.1,"h":20.4},{"s":"TB","t":350,"m":13.1,"l":6.6,"h":19.8},
{"s":"TL","t":0,"m":0.8,"l":0,"h":4.5},{"s":"TL","t":10,"m":2.2,"l":0,"h":6.5},{"s":"TL","t":20,"m":3.5,"l":0,"h":8},{"s":"TL","t":30,"m":4.5,"l":0.5,"h":9},{"s":"TL","t":40,"m":5.5,"l":1,"h":10.2},{"s":"TL","t":50,"m":6.5,"l":1.8,"h":11},{"s":"TL","t":60,"m":7.3,"l":2.3,"h":11.8},{"s":"TL","t":70,"m":8,"l":2.8,"h":12.6},{"s":"TL","t":80,"m":8.8,"l":3.4,"h":13.4},{"s":"TL","t":90,"m":9.5,"l":3.9,"h":14.1},{"s":"TL","t":100,"m":10.2,"l":4.5,"h":14.8},{"s":"TL","t":110,"m":10.8,"l":5,"h":15.4},{"s":"TL","t":120,"m":11.2,"l":5.3,"h":16},{"s":"TL","t":130,"m":11.3,"l":5.5,"h":16.2},{"s":"TL","t":140,"m":11,"l":5.2,"h":15.8},{"s":"TL","t":150,"m":10.3,"l":4.8,"h":15.1},{"s":"TL","t":160,"m":9.6,"l":4.3,"h":14.6},{"s":"TL","t":170,"m":9.1,"l":4,"h":14.2},{"s":"TL","t":180,"m":8.9,"l":3.8,"h":14.1},{"s":"TL","t":190,"m":9,"l":4,"h":14.3},{"s":"TL","t":200,"m":9.4,"l":4.2,"h":14.6},{"s":"TL","t":210,"m":9.9,"l":4.5,"h":15},{"s":"TL","t":220,"m":10.4,"l":4.9,"h":15.4},{"s":"TL","t":230,"m":10.8,"l":5.2,"h":15.9},{"s":"TL","t":240,"m":11,"l":5.4,"h":16.1},{"s":"TL","t":250,"m":11.1,"l":5.5,"h":16.4},{"s":"TL","t":260,"m":10.9,"l":5.3,"h":16.2},{"s":"TL","t":270,"m":10.4,"l":4.9,"h":15.7},{"s":"TL","t":280,"m":9.6,"l":4.4,"h":14.9},{"s":"TL","t":290,"m":8.8,"l":3.8,"h":14.2},{"s":"TL","t":300,"m":7.8,"l":3.2,"h":13.4},{"s":"TL","t":310,"m":6.9,"l":2.6,"h":12.5},{"s":"TL","t":320,"m":6.1,"l":2.1,"h":11.8},{"s":"TL","t":330,"m":5.4,"l":1.7,"h":11.2},{"s":"TL","t":340,"m":4.8,"l":1.3,"h":10.5},{"s":"TL","t":350,"m":4.2,"l":1,"h":9.8},
{"s":"TH","t":0,"m":0.5,"l":0,"h":2.5},{"s":"TH","t":10,"m":3.2,"l":0.5,"h":6},{"s":"TH","t":20,"m":5.2,"l":1.5,"h":8.5},{"s":"TH","t":30,"m":6.8,"l":2.5,"h":10},{"s":"TH","t":40,"m":7.8,"l":3,"h":11},{"s":"TH","t":50,"m":8.5,"l":3.5,"h":12},{"s":"TH","t":60,"m":7.5,"l":3,"h":11.5},{"s":"TH","t":70,"m":5.5,"l":2,"h":9.5},{"s":"TH","t":80,"m":3.8,"l":1,"h":7.5},{"s":"TH","t":90,"m":2.8,"l":0.5,"h":6},{"s":"TH","t":100,"m":2,"l":0.3,"h":5},{"s":"TH","t":110,"m":2.3,"l":0.4,"h":5.2},{"s":"TH","t":120,"m":2.5,"l":0.5,"h":5.5},{"s":"TH","t":130,"m":2.4,"l":0.5,"h":5.4},{"s":"TH","t":140,"m":2.6,"l":0.6,"h":5.6},{"s":"TH","t":150,"m":2.1,"l":0.4,"h":5},{"s":"TH","t":160,"m":1.7,"l":0.3,"h":4.5},{"s":"TH","t":170,"m":1.5,"l":0.3,"h":4.2},{"s":"TH","t":180,"m":1.3,"l":0.2,"h":4},{"s":"TH","t":190,"m":1.2,"l":0.2,"h":3.8},{"s":"TH","t":200,"m":1.1,"l":0.2,"h":3.6},{"s":"TH","t":210,"m":1,"l":0.2,"h":3.5},{"s":"TH","t":220,"m":1,"l":0.2,"h":3.4},{"s":"TH","t":230,"m":0.9,"l":0.1,"h":3.2},{"s":"TH","t":240,"m":0.9,"l":0.1,"h":3.2},{"s":"TH","t":250,"m":1,"l":0.2,"h":3.3},{"s":"TH","t":260,"m":0.9,"l":0.1,"h":3.1},{"s":"TH","t":270,"m":0.8,"l":0.1,"h":3},{"s":"TH","t":280,"m":0.9,"l":0.1,"h":3},{"s":"TH","t":290,"m":0.9,"l":0.1,"h":3},{"s":"TH","t":300,"m":1.1,"l":0.2,"h":3.2},{"s":"TH","t":310,"m":1.2,"l":0.2,"h":3.3},{"s":"TH","t":320,"m":1,"l":0.2,"h":3.1},{"s":"TH","t":330,"m":1.2,"l":0.2,"h":3.3},{"s":"TH","t":340,"m":1.1,"l":0.2,"h":3.2},{"s":"TH","t":350,"m":1.45,"l":0.3,"h":3.6},
{"s":"TR","t":0,"m":1.2,"l":0,"h":2.4},{"s":"TR","t":10,"m":0.9,"l":0,"h":2.1},{"s":"TR","t":20,"m":0.7,"l":0,"h":1.9},{"s":"TR","t":30,"m":0.9,"l":0,"h":2.1},{"s":"TR","t":40,"m":0.6,"l":0,"h":1.8},{"s":"TR","t":50,"m":0.8,"l":0,"h":2},{"s":"TR","t":60,"m":0.6,"l":0,"h":1.8},{"s":"TR","t":70,"m":0.7,"l":0,"h":1.9},{"s":"TR","t":80,"m":0.5,"l":0,"h":1.7},{"s":"TR","t":90,"m":0.6,"l":0,"h":1.8},{"s":"TR","t":100,"m":0.4,"l":0,"h":1.6},{"s":"TR","t":110,"m":0.6,"l":0,"h":1.8},{"s":"TR","t":120,"m":0.5,"l":0,"h":1.7},{"s":"TR","t":130,"m":0.7,"l":0,"h":1.9},{"s":"TR","t":140,"m":0.9,"l":0,"h":2.1},{"s":"TR","t":150,"m":0.6,"l":0,"h":1.8},{"s":"TR","t":160,"m":1,"l":0,"h":2.2},{"s":"TR","t":170,"m":0.9,"l":0,"h":2.1},{"s":"TR","t":180,"m":0.8,"l":0,"h":2},{"s":"TR","t":190,"m":0.7,"l":0,"h":1.9},{"s":"TR","t":200,"m":0.7,"l":0,"h":1.9},{"s":"TR","t":210,"m":0.8,"l":0,"h":2},{"s":"TR","t":220,"m":0.6,"l":0,"h":1.8},{"s":"TR","t":230,"m":0.7,"l":0,"h":1.9},{"s":"TR","t":240,"m":0.6,"l":0,"h":1.8},{"s":"TR","t":250,"m":0.7,"l":0,"h":1.9},{"s":"TR","t":260,"m":0.6,"l":0,"h":1.8},{"s":"TR","t":270,"m":0.5,"l":0,"h":1.7},{"s":"TR","t":280,"m":0.6,"l":0,"h":1.8},{"s":"TR","t":290,"m":0.5,"l":0,"h":1.7},{"s":"TR","t":300,"m":0.7,"l":0,"h":1.9},{"s":"TR","t":310,"m":0.9,"l":0,"h":2.1},{"s":"TR","t":320,"m":0.8,"l":0,"h":2},{"s":"TR","t":330,"m":1,"l":0,"h":2.2},{"s":"TR","t":340,"m":0.9,"l":0,"h":2.1},{"s":"TR","t":350,"m":1.2,"l":0,"h":2.4},
{"s":"C1","t":0,"m":0.5,"l":0,"h":2.5},{"s":"C1","t":10,"m":4.8,"l":2,"h":7},{"s":"C1","t":20,"m":7.5,"l":4.5,"h":9.5},{"s":"C1","t":30,"m":9.5,"l":6.5,"h":11.5},{"s":"C1","t":40,"m":12,"l":9,"h":13.4},{"s":"C1","t":50,"m":11.4,"l":8.5,"h":13.5},{"s":"C1","t":60,"m":10.5,"l":7.5,"h":12.8},{"s":"C1","t":70,"m":10.8,"l":8,"h":13.2},{"s":"C1","t":80,"m":11.2,"l":8.3,"h":13.6},{"s":"C1","t":90,"m":11.5,"l":8.6,"h":13.9},{"s":"C1","t":100,"m":11.6,"l":8.7,"h":14},{"s":"C1","t":110,"m":11.4,"l":8.5,"h":13.8},{"s":"C1","t":120,"m":11.3,"l":8.4,"h":13.7},{"s":"C1","t":130,"m":11.2,"l":8.3,"h":13.6},{"s":"C1","t":140,"m":11.4,"l":8.5,"h":13.8},{"s":"C1","t":150,"m":11.5,"l":8.6,"h":13.9},{"s":"C1","t":160,"m":11.3,"l":8.4,"h":13.7},{"s":"C1","t":170,"m":11.1,"l":8.2,"h":13.5},{"s":"C1","t":180,"m":11,"l":8.1,"h":13.5},{"s":"C1","t":190,"m":11,"l":8.1,"h":13.6},{"s":"C1","t":200,"m":11.1,"l":8.2,"h":13.7},{"s":"C1","t":210,"m":11.2,"l":8.3,"h":13.8},{"s":"C1","t":220,"m":11.3,"l":8.4,"h":13.9},{"s":"C1","t":230,"m":11.4,"l":8.5,"h":13.9},{"s":"C1","t":240,"m":11.6,"l":8.7,"h":14},{"s":"C1","t":250,"m":11.7,"l":8.8,"h":14},{"s":"C1","t":260,"m":11.7,"l":8.8,"h":14},{"s":"C1","t":270,"m":11.8,"l":8.9,"h":14},{"s":"C1","t":280,"m":11.9,"l":9,"h":13.9},{"s":"C1","t":290,"m":12,"l":9.1,"h":14},{"s":"C1","t":300,"m":12,"l":9.2,"h":13.6},
{"s":"C2","t":0,"m":0.4,"l":0,"h":2},{"s":"C2","t":10,"m":3.5,"l":1.5,"h":6},{"s":"C2","t":20,"m":6,"l":3.5,"h":8.5},{"s":"C2","t":30,"m":7.5,"l":5,"h":10},{"s":"C2","t":40,"m":8.7,"l":6.2,"h":11.2},{"s":"C2","t":50,"m":10.6,"l":8,"h":13},{"s":"C2","t":60,"m":12.2,"l":9.6,"h":13.2},{"s":"C2","t":70,"m":12.4,"l":9.8,"h":14.6},{"s":"C2","t":80,"m":11.3,"l":8.8,"h":13.8},{"s":"C2","t":90,"m":11.4,"l":8.9,"h":13.9},{"s":"C2","t":100,"m":11.5,"l":9,"h":12.8},{"s":"C2","t":110,"m":11.3,"l":8.8,"h":13.3},{"s":"C2","t":120,"m":11.1,"l":8.6,"h":13.6},{"s":"C2","t":130,"m":11.2,"l":8.7,"h":13.7},{"s":"C2","t":140,"m":11.5,"l":9,"h":14},{"s":"C2","t":150,"m":11.3,"l":8.8,"h":13.8},{"s":"C2","t":160,"m":11,"l":8.5,"h":13.5},{"s":"C2","t":170,"m":11,"l":8.5,"h":13.5},{"s":"C2","t":180,"m":10.7,"l":8.2,"h":13.2},{"s":"C2","t":190,"m":10.4,"l":7.9,"h":12.9},{"s":"C2","t":200,"m":10.1,"l":7.6,"h":12.6},{"s":"C2","t":210,"m":9,"l":6.5,"h":11.5},{"s":"C2","t":220,"m":8,"l":5.5,"h":10.5},{"s":"C2","t":230,"m":8.6,"l":6.1,"h":11.1},{"s":"C2","t":240,"m":9.3,"l":6.8,"h":11.8},{"s":"C2","t":250,"m":10.4,"l":7.9,"h":12.9},{"s":"C2","t":260,"m":9.8,"l":7.3,"h":12.3},{"s":"C2","t":270,"m":9,"l":6.5,"h":11.5},{"s":"C2","t":280,"m":8.4,"l":5.9,"h":10.9},{"s":"C2","t":290,"m":8.6,"l":6.1,"h":11.1},{"s":"C2","t":300,"m":9.6,"l":7.1,"h":12.1},
{"s":"C3","t":0,"m":0.5,"l":0,"h":5},{"s":"C3","t":10,"m":2.5,"l":0,"h":7.5},{"s":"C3","t":20,"m":4.3,"l":0.5,"h":9},{"s":"C3","t":30,"m":6.5,"l":2,"h":10.5},{"s":"C3","t":40,"m":7.8,"l":3,"h":13},{"s":"C3","t":50,"m":8.6,"l":3.5,"h":13.4},{"s":"C3","t":60,"m":9.2,"l":4,"h":12.5},{"s":"C3","t":70,"m":10,"l":5,"h":13},{"s":"C3","t":80,"m":10.9,"l":6,"h":14.7},{"s":"C3","t":90,"m":11.2,"l":6.5,"h":15},{"s":"C3","t":100,"m":11,"l":6.5,"h":13},{"s":"C3","t":110,"m":11.6,"l":7,"h":13.6},{"s":"C3","t":120,"m":12.3,"l":7.5,"h":15.6},{"s":"C3","t":130,"m":12.8,"l":8,"h":16.4},{"s":"C3","t":140,"m":12.7,"l":8.5,"h":16.6},{"s":"C3","t":150,"m":11,"l":7,"h":14.5},{"s":"C3","t":160,"m":9.6,"l":5.5,"h":13.7},{"s":"C3","t":170,"m":9.1,"l":5,"h":14.3},{"s":"C3","t":180,"m":9.6,"l":5.5,"h":14.6},{"s":"C3","t":190,"m":10,"l":6,"h":14.9},{"s":"C3","t":200,"m":10.1,"l":6,"h":15.1},{"s":"C3","t":210,"m":10.3,"l":6.2,"h":15.2},{"s":"C3","t":220,"m":10.2,"l":6,"h":15.1},{"s":"C3","t":230,"m":9.6,"l":5.5,"h":14.9},{"s":"C3","t":240,"m":10.4,"l":6,"h":14.7},{"s":"C3","t":250,"m":10.2,"l":6,"h":14.4},{"s":"C3","t":260,"m":9.4,"l":5.2,"h":14.2},{"s":"C3","t":270,"m":8.6,"l":4.6,"h":14},{"s":"C3","t":280,"m":8.1,"l":4.2,"h":13.8},{"s":"C3","t":290,"m":8,"l":4,"h":14.1},{"s":"C3","t":300,"m":8.2,"l":4.2,"h":13.6},
{"s":"C4","t":0,"m":0.3,"l":0,"h":2},{"s":"C4","t":10,"m":4.4,"l":1.5,"h":6.8},{"s":"C4","t":20,"m":4.2,"l":1.3,"h":6.6},{"s":"C4","t":30,"m":4.2,"l":1.3,"h":6.7},{"s":"C4","t":40,"m":4.4,"l":1.5,"h":6.9},{"s":"C4","t":50,"m":4.8,"l":1.9,"h":7.3},{"s":"C4","t":60,"m":5.8,"l":2.9,"h":8.3},{"s":"C4","t":70,"m":6.8,"l":3.9,"h":9.3},{"s":"C4","t":80,"m":7.5,"l":4.6,"h":10},{"s":"C4","t":90,"m":8.2,"l":5.3,"h":10.7},{"s":"C4","t":100,"m":8.9,"l":6,"h":11.4},{"s":"C4","t":110,"m":9.5,"l":6.6,"h":12},{"s":"C4","t":120,"m":10.2,"l":7.3,"h":12.7},{"s":"C4","t":130,"m":10.9,"l":8,"h":13.4},{"s":"C4","t":140,"m":11.6,"l":8.7,"h":14.1},{"s":"C4","t":150,"m":10.9,"l":8,"h":13.4},{"s":"C4","t":160,"m":9.3,"l":6.4,"h":11.8},{"s":"C4","t":170,"m":9,"l":6.1,"h":11.5},{"s":"C4","t":180,"m":9.8,"l":6.9,"h":12.3},{"s":"C4","t":190,"m":10,"l":7.1,"h":12.5},{"s":"C4","t":200,"m":9.9,"l":7,"h":12.4},{"s":"C4","t":210,"m":8.8,"l":5.9,"h":11.3},{"s":"C4","t":220,"m":7.4,"l":4.5,"h":9.9},{"s":"C4","t":230,"m":7.1,"l":4.2,"h":9.6},{"s":"C4","t":240,"m":8.5,"l":5.6,"h":11},{"s":"C4","t":250,"m":10.7,"l":7.8,"h":13.2},{"s":"C4","t":260,"m":10,"l":7.1,"h":12.5},{"s":"C4","t":270,"m":9.1,"l":6.2,"h":11.6},{"s":"C4","t":280,"m":8.5,"l":5.6,"h":11},{"s":"C4","t":290,"m":8.6,"l":5.7,"h":11.1},{"s":"C4","t":300,"m":8,"l":5.1,"h":10.5},
{"s":"C5","t":0,"m":0.6,"l":0,"h":2.5},{"s":"C5","t":10,"m":5.7,"l":3.2,"h":8.7},{"s":"C5","t":20,"m":6.8,"l":4.3,"h":9.8},{"s":"C5","t":30,"m":7.3,"l":4.8,"h":10.3},{"s":"C5","t":40,"m":7.8,"l":5.3,"h":10.8},{"s":"C5","t":50,"m":8,"l":5.5,"h":11},{"s":"C5","t":60,"m":8.2,"l":5.7,"h":11.2},{"s":"C5","t":70,"m":8.4,"l":5.9,"h":11.4},{"s":"C5","t":80,"m":8.4,"l":5.9,"h":11.4},{"s":"C5","t":90,"m":8,"l":5.5,"h":11},{"s":"C5","t":100,"m":7.4,"l":4.9,"h":10.4},{"s":"C5","t":110,"m":7.3,"l":4.8,"h":10.3},{"s":"C5","t":120,"m":8.2,"l":5.7,"h":11.2},{"s":"C5","t":130,"m":9.8,"l":7.3,"h":12.8},{"s":"C5","t":140,"m":10.6,"l":8.1,"h":13.6},{"s":"C5","t":150,"m":10.2,"l":7.7,"h":13.2},{"s":"C5","t":160,"m":10,"l":7.5,"h":13},{"s":"C5","t":170,"m":9.6,"l":7.1,"h":12.6},{"s":"C5","t":180,"m":7.6,"l":5.1,"h":10.6},{"s":"C5","t":190,"m":9.8,"l":7.3,"h":12.8},{"s":"C5","t":200,"m":9.7,"l":7.2,"h":12.7},{"s":"C5","t":210,"m":6.4,"l":3.9,"h":9.4},{"s":"C5","t":220,"m":7.2,"l":4.7,"h":10.2},{"s":"C5","t":230,"m":7.6,"l":5.1,"h":10.6},{"s":"C5","t":240,"m":8.5,"l":6,"h":11.5},{"s":"C5","t":250,"m":7.3,"l":4.8,"h":10.3},{"s":"C5","t":260,"m":6,"l":3.5,"h":9},{"s":"C5","t":270,"m":7.4,"l":4.9,"h":10.4},{"s":"C5","t":280,"m":7.5,"l":5,"h":10.5},{"s":"C5","t":290,"m":6.5,"l":4,"h":9.5},{"s":"C5","t":300,"m":8.6,"l":6.1,"h":11.6},
{"s":"C6","t":0,"m":0.5,"l":0,"h":2},{"s":"C6","t":10,"m":1.2,"l":0,"h":3.5},{"s":"C6","t":20,"m":1,"l":0,"h":3.6},{"s":"C6","t":30,"m":1.6,"l":0,"h":4.2},{"s":"C6","t":40,"m":1.4,"l":0,"h":4.2},{"s":"C6","t":50,"m":1.2,"l":0,"h":4.1},{"s":"C6","t":60,"m":1.3,"l":0,"h":4.3},{"s":"C6","t":70,"m":1,"l":0,"h":4.1},{"s":"C6","t":80,"m":0.9,"l":0,"h":4.1},{"s":"C6","t":90,"m":0.8,"l":0,"h":4.2},{"s":"C6","t":100,"m":0.9,"l":0,"h":4.3},{"s":"C6","t":110,"m":0.9,"l":0,"h":4.4},{"s":"C6","t":120,"m":1,"l":0,"h":4.6},{"s":"C6","t":130,"m":1.1,"l":0,"h":4.8},{"s":"C6","t":140,"m":1.5,"l":0,"h":5.2},{"s":"C6","t":150,"m":1.2,"l":0,"h":5},{"s":"C6","t":160,"m":1.9,"l":0,"h":5.1},{"s":"C6","t":170,"m":1.8,"l":0,"h":5},{"s":"C6","t":180,"m":1.5,"l":0,"h":4.9},{"s":"C6","t":190,"m":1.4,"l":0,"h":4.8},{"s":"C6","t":200,"m":1.2,"l":0,"h":4.7},{"s":"C6","t":210,"m":1.5,"l":0,"h":4.6},{"s":"C6","t":220,"m":1.1,"l":0,"h":4.4},{"s":"C6","t":230,"m":1.3,"l":0,"h":4.3},{"s":"C6","t":240,"m":1,"l":0,"h":4.1},{"s":"C6","t":250,"m":1.2,"l":0,"h":3.8},{"s":"C6","t":260,"m":1,"l":0,"h":3.5},{"s":"C6","t":270,"m":0.9,"l":0,"h":3.2},{"s":"C6","t":280,"m":1,"l":0,"h":3},{"s":"C6","t":290,"m":0.9,"l":0,"h":2.8},{"s":"C6","t":300,"m":1,"l":0,"h":2.6},
{"s":"C7","t":0,"m":1,"l":0,"h":2.5},{"s":"C7","t":10,"m":0.7,"l":0,"h":2.2},{"s":"C7","t":20,"m":0.6,"l":0,"h":2.1},{"s":"C7","t":30,"m":0.8,"l":0,"h":2.3},{"s":"C7","t":40,"m":0.5,"l":0,"h":2},{"s":"C7","t":50,"m":0.7,"l":0,"h":2.2},{"s":"C7","t":60,"m":0.5,"l":0,"h":2},{"s":"C7","t":70,"m":0.6,"l":0,"h":2.1},{"s":"C7","t":80,"m":0.4,"l":0,"h":1.9},{"s":"C7","t":90,"m":0.5,"l":0,"h":2},{"s":"C7","t":100,"m":0.4,"l":0,"h":1.9},{"s":"C7","t":110,"m":0.6,"l":0,"h":2.1},{"s":"C7","t":120,"m":0.5,"l":0,"h":2},{"s":"C7","t":130,"m":0.6,"l":0,"h":2.1},{"s":"C7","t":140,"m":0.8,"l":0,"h":2.3},{"s":"C7","t":150,"m":1,"l":0,"h":2.5},{"s":"C7","t":160,"m":1.1,"l":0,"h":2.6},{"s":"C7","t":170,"m":1.3,"l":0,"h":2.8},{"s":"C7","t":180,"m":1,"l":0,"h":2.5},{"s":"C7","t":190,"m":1.1,"l":0,"h":2.6},{"s":"C7","t":200,"m":0.9,"l":0,"h":2.4},{"s":"C7","t":210,"m":1,"l":0,"h":2.5},{"s":"C7","t":220,"m":0.8,"l":0,"h":2.3},{"s":"C7","t":230,"m":0.9,"l":0,"h":2.4},{"s":"C7","t":240,"m":0.8,"l":0,"h":2.3},{"s":"C7","t":250,"m":0.7,"l":0,"h":2.2},{"s":"C7","t":260,"m":0.8,"l":0,"h":2.3},{"s":"C7","t":270,"m":0.7,"l":0,"h":2.2},{"s":"C7","t":280,"m":0.6,"l":0,"h":2.1},{"s":"C7","t":290,"m":0.7,"l":0,"h":2.2},{"s":"C7","t":300,"m":0.7,"l":0,"h":2.2}
]
},
"hconcat":[
{
 "width":386,"height":612,
 "title":{"text":"Temporal variation of modal frequency","offset":10},
 "data":{"name":"left"},
 "resolve":{"axis":{"x":"independent","y":"independent"}},
 "layer":[
  {"mark":{"type":"area","color":"#ff0000","opacity":0.26},
   "encoding":{
    "x":{"field":"t","type":"quantitative","scale":{"domain":[0,350],"nice":false},"axis":{"values":[50,100,150,200,250,300,350],"title":"Time (s)","titlePadding":6}},
    "y":{"field":"Tl","type":"quantitative","scale":{"domain":[5,154],"nice":false,"zero":false},"axis":{"values":[20,40,60,80,100,120,140],"title":"Frequency","titleX":-99,"titleY":226}},
    "y2":{"field":"Th"},"detail":{"field":"b"}}},
  {"mark":{"type":"rule","color":"#ff0000","opacity":0.6,"strokeWidth":1},
   "encoding":{
    "x":{"field":"t","type":"quantitative","axis":{"orient":"top","values":[50,100,150,200,250,300,350],"labels":false,"title":null}},
    "y":{"field":"Tl","type":"quantitative","axis":{"orient":"right","values":[20,40,60,80,100,120,140],"labels":false,"title":null}},
    "y2":{"field":"Th"}}},
  {"mark":{"type":"tick","orient":"horizontal","color":"#ff0000","size":8,"thickness":1},
   "encoding":{"x":{"field":"t","type":"quantitative","axis":null},"y":{"field":"Th","type":"quantitative","axis":null}}},
  {"mark":{"type":"tick","orient":"horizontal","color":"#ff0000","size":8,"thickness":1},
   "encoding":{"x":{"field":"t","type":"quantitative","axis":null},"y":{"field":"Tl","type":"quantitative","axis":null}}},
  {"mark":{"type":"line","strokeWidth":2.6},
   "encoding":{"x":{"field":"t","type":"quantitative","axis":null},"y":{"field":"Tm","type":"quantitative","axis":null},"detail":{"field":"b"},
    "color":{"datum":"TSC","scale":{"range":["#ff0000"]},"legend":{"orient":"none","legendX":414,"legendY":63,"title":"TSC","titleOrient":"top","titleAnchor":"start","titleAlign":"left","titlePadding":1,"titleFont":"Liberation Serif","titleFontWeight":"bold","titleFontSize":17,"titleColor":"#111111","symbolType":"M-6,0H6","symbolSize":144,"symbolStrokeWidth":3,"symbolOffset":28,"labelExpr":"''","labelFontSize":1}}}},
  {"transform":[{"filter":"isValid(datum.Cm)"}],
   "mark":{"type":"area","color":"#3a3a3a","opacity":0.42},
   "encoding":{"x":{"field":"t","type":"quantitative","axis":null},"y":{"field":"Cl","type":"quantitative","axis":null},"y2":{"field":"Ch"},"detail":{"field":"b"}}},
  {"transform":[{"filter":"isValid(datum.Cm)"}],
   "mark":{"type":"rule","color":"#222222","opacity":0.55,"strokeWidth":1},
   "encoding":{"x":{"field":"t","type":"quantitative","axis":null},"y":{"field":"Cl","type":"quantitative","axis":null},"y2":{"field":"Ch"}}},
  {"transform":[{"filter":"isValid(datum.Cm)"}],
   "mark":{"type":"tick","orient":"horizontal","color":"#111111","size":8,"thickness":1.2},
   "encoding":{"x":{"field":"t","type":"quantitative","axis":null},"y":{"field":"Ch","type":"quantitative","axis":null}}},
  {"transform":[{"filter":"isValid(datum.Cm)"}],
   "mark":{"type":"tick","orient":"horizontal","color":"#111111","size":8,"thickness":1.2},
   "encoding":{"x":{"field":"t","type":"quantitative","axis":null},"y":{"field":"Cl","type":"quantitative","axis":null}}},
  {"transform":[{"filter":"isValid(datum.Cm)"}],
   "mark":{"type":"line","strokeWidth":2.6},
   "encoding":{"x":{"field":"t","type":"quantitative","axis":null},"y":{"field":"Cm","type":"quantitative","axis":null},"detail":{"field":"b"},
    "stroke":{"datum":"Controls","scale":{"range":["#000000"]},"legend":{"orient":"none","legendX":414,"legendY":104,"title":"Controls","titleOrient":"bottom","titleAnchor":"start","titleAlign":"left","titlePadding":2,"titleFont":"Liberation Serif","titleFontWeight":"bold","titleFontSize":17,"titleColor":"#111111","symbolType":"M-6,0H6","symbolSize":144,"symbolStrokeWidth":3,"symbolOffset":28,"labelExpr":"''","labelFontSize":1}}}},
  {"data":{"name":"llab"},
   "mark":{"type":"text"},
   "encoding":{"x":{"field":"t","type":"quantitative","axis":null},"y":{"field":"v","type":"quantitative","axis":null},"text":{"field":"txt"}}}
 ]
},
{
 "width":413,"height":612,
 "title":{"text":"Temporal variation of modal amplitude","offset":4},
 "data":{"name":"right"},
 "resolve":{"axis":{"x":"independent","y":"independent"}},
 "layer":[
  {"transform":[{"filter":"datum.s == 'TA'"}],
   "mark":{"type":"area","color":"#ff0000","opacity":0.3,"interpolate":"step"},
   "encoding":{
    "x":{"field":"t","type":"quantitative","scale":{"domain":[0,350],"nice":false},"axis":{"values":[50,100,150,200,250,300,350],"title":"Time (s)","titlePadding":6}},
    "y":{"field":"h","type":"quantitative","scale":{"domain":[0,10,30],"range":[612,488,0],"nice":false,"zero":false},"axis":{"values":[0,10,15,20,25,30],"title":"Amplitude (uV)","titleX":-26}},
    "y2":{"datum":0}}},
  {"transform":[{"filter":"substring(datum.s,0,1) == 'T'"}],
   "mark":{"type":"rule","color":"#ff0000","opacity":0.55,"strokeWidth":1},
   "encoding":{
    "x":{"field":"t","type":"quantitative","axis":{"orient":"top","values":[50,100,150,200,250,300,350],"labels":false,"title":null}},
    "y":{"field":"l","type":"quantitative","axis":{"orient":"right","values":[0,10,15,20,25,30],"labels":false,"title":null}},
    "y2":{"field":"h"}}},
  {"transform":[{"filter":"datum.s == 'C3'"}],
   "mark":{"type":"area","color":"#dadada","opacity":1},
   "encoding":{"x":{"field":"t","type":"quantitative","axis":null},"y":{"field":"h","type":"quantitative","axis":null},"y2":{"datum":0}}},
  {"transform":[{"filter":"substring(datum.s,0,1) == 'T'"}],
   "mark":{"type":"tick","orient":"horizontal","color":"#ff0000","size":9,"thickness":1},
   "encoding":{"x":{"field":"t","type":"quantitative","axis":null},"y":{"field":"h","type":"quantitative","axis":null}}},
  {"transform":[{"filter":"substring(datum.s,0,1) == 'T' && datum.l > 0"}],
   "mark":{"type":"tick","orient":"horizontal","color":"#ff0000","size":9,"thickness":1},
   "encoding":{"x":{"field":"t","type":"quantitative","axis":null},"y":{"field":"l","type":"quantitative","axis":null}}},
  {"transform":[{"filter":"substring(datum.s,0,1) == 'T'"}],
   "mark":{"type":"line","color":"#ff0000","strokeWidth":2.6,"interpolate":"monotone"},
   "encoding":{"x":{"field":"t","type":"quantitative","axis":null},"y":{"field":"m","type":"quantitative","axis":null},"detail":{"field":"s"}}},
  {"transform":[{"filter":"datum.s == 'C3'"}],
   "mark":{"type":"area","color":"#404040","opacity":0.35},
   "encoding":{"x":{"field":"t","type":"quantitative","axis":null},"y":{"field":"h","type":"quantitative","axis":null},"y2":{"datum":0}}},
  {"transform":[{"filter":"substring(datum.s,0,1) == 'C'"}],
   "mark":{"type":"rule","color":"#111111","opacity":0.45,"strokeWidth":1},
   "encoding":{"x":{"field":"t","type":"quantitative","axis":null},"y":{"field":"l","type":"quantitative","axis":null},"y2":{"field":"h"}}},
  {"transform":[{"filter":"substring(datum.s,0,1) == 'C'"}],
   "mark":{"type":"tick","orient":"horizontal","color":"#111111","size":9,"thickness":1.2},
   "encoding":{"x":{"field":"t","type":"quantitative","axis":null},"y":{"field":"h","type":"quantitative","axis":null}}},
  {"transform":[{"filter":"substring(datum.s,0,1) == 'C' && datum.l > 0"}],
   "mark":{"type":"tick","orient":"horizontal","color":"#111111","size":9,"thickness":1.2},
   "encoding":{"x":{"field":"t","type":"quantitative","axis":null},"y":{"field":"l","type":"quantitative","axis":null}}},
  {"transform":[{"filter":"substring(datum.s,0,1) == 'C'"}],
   "mark":{"type":"line","color":"#000000","strokeWidth":2.6,"interpolate":"monotone"},
   "encoding":{"x":{"field":"t","type":"quantitative","axis":null},"y":{"field":"m","type":"quantitative","axis":null},"detail":{"field":"s"}}},
  {"data":{"name":"rlab"},
   "mark":{"type":"text"},
   "encoding":{"x":{"field":"t","type":"quantitative","axis":null},"y":{"field":"v","type":"quantitative","axis":null},"text":{"field":"txt"}}}
 ]
}
]
}
